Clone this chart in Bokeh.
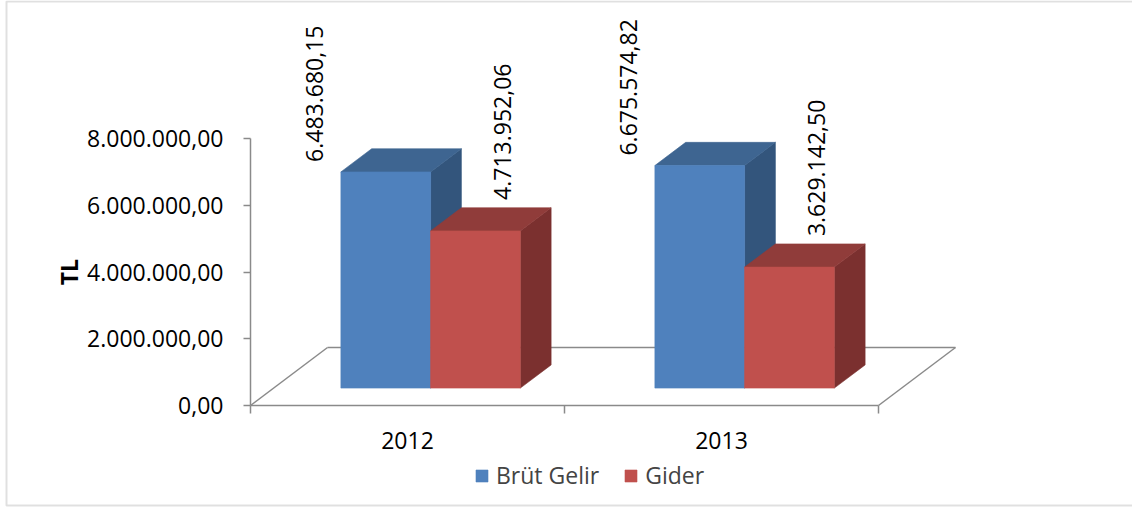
import math
from bokeh.plotting import figure
from bokeh.models import (Range1d, FixedTicker, Legend, LegendItem, Label,
                          BoxAnnotation, ColumnDataSource)
from bokeh.core.properties import value
from bokeh.embed import file_html
from bokeh.resources import INLINE

# ---------------- data ----------------
years = ["2012", "2013"]
series_names = ["Brüt Gelir", "Gider"]
brut_gelir = [6483680.15, 6675574.82]
gider = [4713952.06, 3629142.50]
y_ticks = [0, 2000000, 4000000, 6000000, 8000000]
y_axis_title = "TL"


def tr(v):
    s = f"{v:,.2f}"
    return s.replace(",", "X").replace(".", ",").replace("X", ".")


# ---------------- style / geometry ----------------
FONT = "Open Sans"
FS = "23px"
W, H = 1132, 509
AX_X, AX_Y = 250, 405           # page position of the front-left floor corner
PX_CAT = 314.0                  # pixels per category on the front plane
PX_YAX = 266.7                  # pixels for the 0..8M axis span
Y_MAX = y_ticks[-1]
upp = Y_MAX / PX_YAX            # data units per pixel (y)
DX = 77.0 / PX_CAT              # full floor depth, x component (data units)
DY = 58.0 * upp                 # full floor depth, y component (data units)
D0, D1 = 0.3, 0.7               # bar depth span
BW = 1.0 / (2 + 1.5)            # bar width with 150% gap width
GRAY = "#8a8a8a"

BLUE = ("#4f81bd", "#3e6591", "#33557c")
RED = ("#c0504d", "#903c3a", "#7b302f")

x_start = -0.5 - AX_X / PX_CAT
x_end = x_start + W / PX_CAT
y_start = -(H - AX_Y) * upp
y_end = AX_Y * upp

p = figure(width=W, height=H, output_backend="svg", toolbar_location=None,
           x_range=Range1d(x_start, x_end), y_range=Range1d(y_start, y_end),
           min_border=0)
p.outline_line_color = None
p.xgrid.visible = False
p.ygrid.visible = False
p.background_fill_color = "white"
p.border_fill_color = "white"

# floor (back edge and side edges)
n = len(years)
p.multi_line(xs=[[-0.5, -0.5 + DX], [-0.5 + DX, n - 0.5 + DX], [n - 0.5, n - 0.5 + DX]],
             ys=[[0, DY], [DY, DY], [0, DY]], line_color=GRAY, line_width=1.5)


def bar_faces(x0s, x1s, vals):
    front = dict(xs=[], ys=[])
    top = dict(xs=[], ys=[])
    side = dict(xs=[], ys=[])
    for x0, x1, v in zip(x0s, x1s, vals):
        fx0, fx1 = x0 + D0 * DX, x1 + D0 * DX
        bx0, bx1 = x0 + D1 * DX, x1 + D1 * DX
        fy0, fy1 = D0 * DY, v + D0 * DY
        by0, by1 = D1 * DY, v + D1 * DY
        front["xs"].append([fx0, fx1, fx1, fx0])
        front["ys"].append([fy0, fy0, fy1, fy1])
        top["xs"].append([fx0, fx1, bx1, bx0])
        top["ys"].append([fy1, fy1, by1, by1])
        side["xs"].append([fx1, bx1, bx1, fx1])
        side["ys"].append([fy0, by0, by1, fy1])
    return front, top, side


idx = list(range(n))
renderers = []
for vals, cols, off in ((brut_gelir, BLUE, -BW), (gider, RED, 0.0)):
    x0s = [i + off for i in idx]
    x1s = [x + BW for x in x0s]
    front, top, side = bar_faces(x0s, x1s, vals)
    p.patches(xs=side["xs"], ys=side["ys"], fill_color=cols[2], line_color=cols[2], line_width=0.6)
    p.patches(xs=top["xs"], ys=top["ys"], fill_color=cols[1], line_color=cols[1], line_width=0.6)
    r = p.patches(xs=front["xs"], ys=front["ys"], fill_color=cols[0], line_color=cols[0], line_width=0.6)
    renderers.append(r)

# data labels (rotated)
for vals, off, xo, yo in ((brut_gelir, -BW, -71.5, -10), (gider, 0.0, 27, -31)):
    src = ColumnDataSource(dict(
        x=[i + off + BW / 2 + D0 * DX for i in idx],
        y=[v + D0 * DY for v in vals],
        t=[tr(v) for v in vals]))
    p.text(x="x", y="y", text="t", source=src, angle=math.pi / 2,
           text_align="left", text_baseline="middle", x_offset=xo, y_offset=yo,
           text_font=value(FONT), text_font_size=value(FS), text_color="black")

# y axis (drawn at the front-left corner of the floor)
ya = p.yaxis[0]
ya.fixed_location = -0.5
ya.ticker = FixedTicker(ticks=y_ticks)
ya.major_label_overrides = {t: tr(t) for t in y_ticks}
ya.bounds = (0, Y_MAX)
ya.axis_line_color = GRAY
ya.axis_line_width = 1.5
ya.major_tick_line_color = GRAY
ya.major_tick_line_width = 1.5
ya.major_tick_out = 7
ya.major_tick_in = 0
ya.minor_tick_line_color = None
ya.major_label_standoff = 20
ya.major_label_text_font = FONT
ya.major_label_text_font_size = FS
ya.major_label_text_color = "black"

# x axis (front edge of the floor)
xa = p.xaxis[0]
xa.fixed_location = 0
xa.ticker = FixedTicker(ticks=idx, minor_ticks=[i - 0.5 for i in range(n + 1)])
xa.major_label_overrides = {i: y for i, y in zip(idx, years)}
xa.bounds = (-0.5, n - 0.5)
xa.axis_line_color = GRAY
xa.axis_line_width = 1.5
xa.major_tick_out = 0
xa.major_tick_in = 0
xa.minor_tick_line_color = GRAY
xa.minor_tick_line_width = 1.5
xa.minor_tick_out = 8
xa.minor_tick_in = 0
xa.major_label_standoff = 18
xa.major_label_text_font = FONT
xa.major_label_text_font_size = FS
xa.major_label_text_color = "black"

# axis title
p.add_layout(Label(x=-0.5, y=Y_MAX / 2, x_offset=-182, text=y_axis_title,
                   angle=math.pi / 2, text_align="center", text_baseline="middle",
                   text_font=FONT, text_font_size=FS, text_font_style="bold",
                   text_color="black"))

# legend
legend = Legend(items=[LegendItem(label=series_names[0], renderers=[renderers[0]]),
                       LegendItem(label=series_names[1], renderers=[renderers[1]])],
                orientation="horizontal", location=(474, 18),
                border_line_color=None, background_fill_alpha=0,
                label_text_font=FONT, label_text_font_size=FS,
                glyph_width=15, glyph_height=15, label_standoff=7, spacing=24,
                padding=0, margin=0)
p.add_layout(legend, "center")

# chart border
p.add_layout(BoxAnnotation(left=6, right=3000, top=1, bottom=505,
                           left_units="canvas", right_units="canvas",
                           top_units="canvas", bottom_units="canvas",
                           fill_alpha=0, line_color="#999999", line_width=2))

open("out.html", "w").write(file_html(p, INLINE))
